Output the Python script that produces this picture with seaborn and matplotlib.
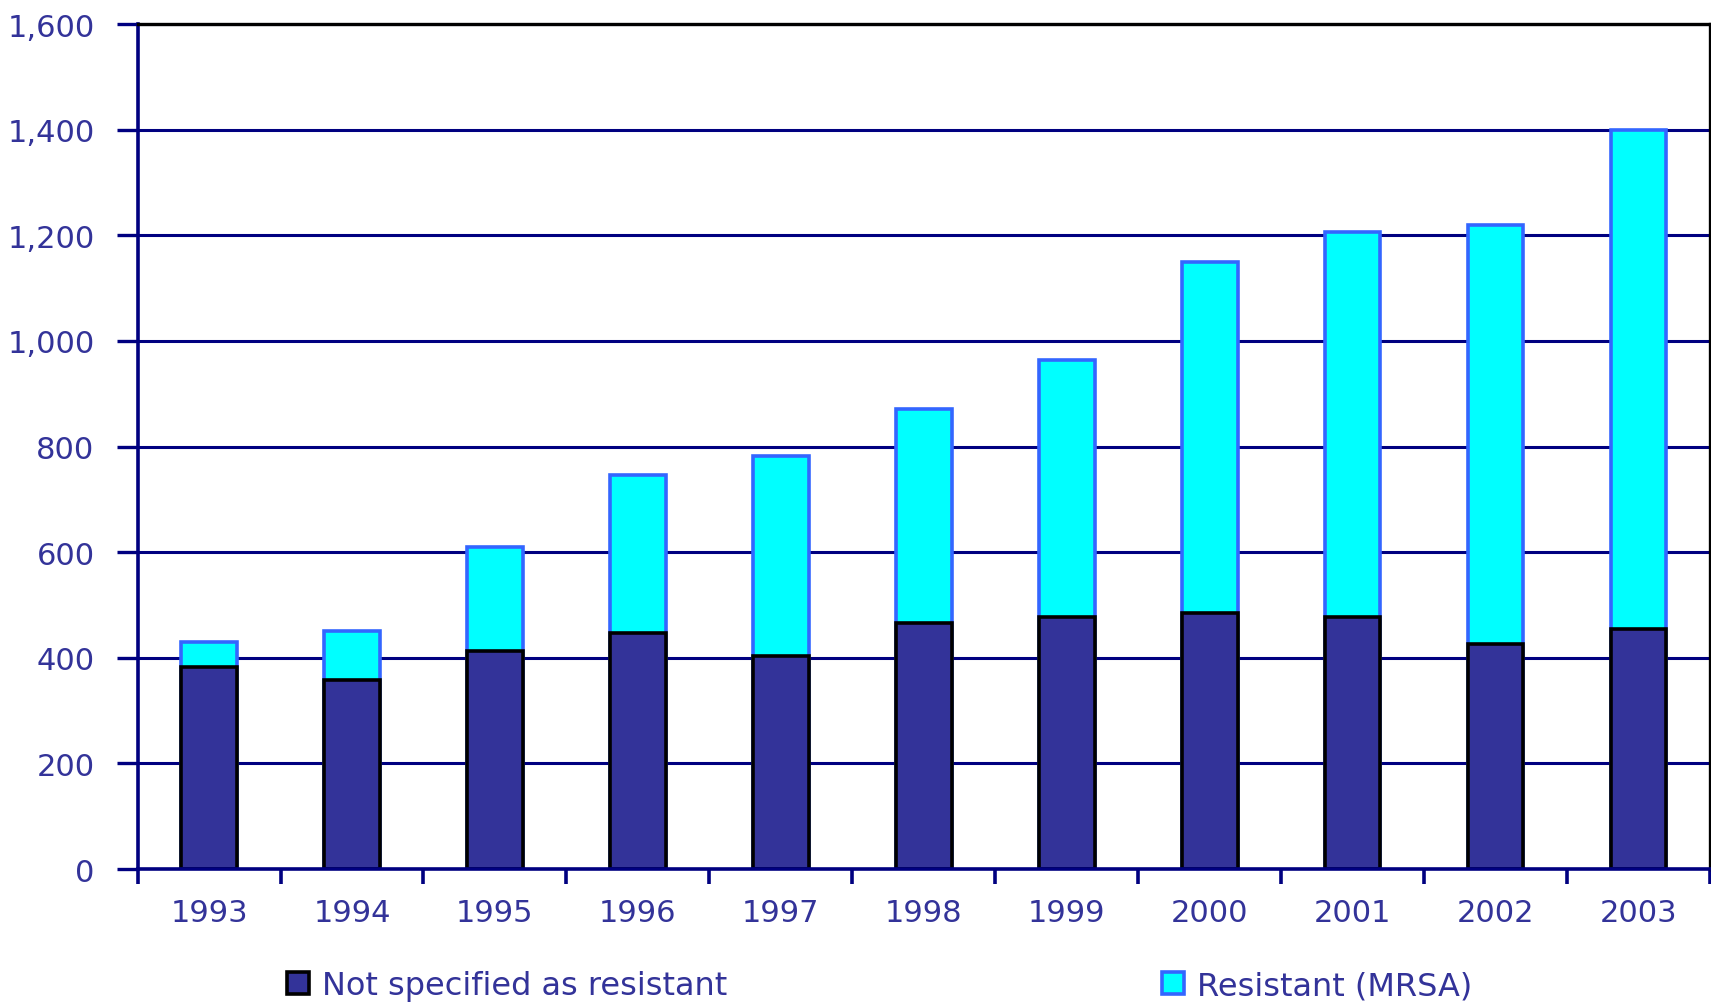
import matplotlib
matplotlib.use('Agg')
import matplotlib.pyplot as plt
import seaborn as sns
import pandas as pd
from matplotlib.ticker import FuncFormatter, FixedLocator

# data
years = ['1993', '1994', '1995', '1996', '1997', '1998', '1999', '2000', '2001', '2002', '2003']
not_resistant = [382, 358, 413, 446, 403, 465, 477, 484, 477, 426, 455]
resistant = [48, 93, 197, 300, 380, 407, 486, 665, 730, 794, 945]

df = pd.DataFrame({'year': years, 'not_res': not_resistant, 'res': resistant})
df['total'] = df['not_res'] + df['res']

sns.set_style('white')
plt.rcParams['font.family'] = ['DejaVu Sans']

navy = '#000080'
text_col = '#333399'

fig = plt.figure(figsize=(17.11, 10.03), dpi=100)
ax = fig.add_axes([0.0804, 0.1326, 0.9190, 0.8424])

# total bar first (cyan), then the dark part on top of it
sns.barplot(data=df, x='year', y='total', color='#00FFFF', edgecolor='#3366FF',
            linewidth=2.6, width=0.39, saturation=1, ax=ax, label='Resistant (MRSA)')
sns.barplot(data=df, x='year', y='not_res', color='#333399', edgecolor='black',
            linewidth=2.6, width=0.39, saturation=1, ax=ax, label='Not specified as resistant')
if ax.get_legend() is not None:
    ax.get_legend().remove()

ax.set_xlim(-0.5, 10.5)
ax.set_ylim(0, 1600)
ax.set_xlabel('')
ax.set_ylabel('')

ax.set_yticks(range(0, 1601, 200))
ax.yaxis.set_major_formatter(FuncFormatter(lambda v, p: f'{int(v):,}'))
ax.yaxis.grid(True, color=navy, linewidth=2.2)
ax.set_axisbelow(True)

# x ticks between the categories
ax.xaxis.set_minor_locator(FixedLocator([i - 0.5 for i in range(12)]))
ax.tick_params(axis='x', which='major', length=0, pad=21, labelsize=22, labelcolor=text_col)
ax.tick_params(axis='x', which='minor', bottom=True, length=11, width=2.6, color=navy,
               direction='out')
ax.tick_params(axis='y', left=True, length=15, width=2.4, color=navy, direction='out', pad=16,
               labelsize=22, labelcolor=text_col)

for side in ['left', 'bottom']:
    ax.spines[side].set_color(navy)
    ax.spines[side].set_linewidth(2.6)
for side in ['top', 'right']:
    ax.spines[side].set_color('black')
    ax.spines[side].set_linewidth(2.4)
ax.spines['top'].set_zorder(5)

handles, labels = ax.get_legend_handles_labels()
order = [labels.index('Not specified as resistant'), labels.index('Resistant (MRSA)')]
leg = fig.legend([handles[i] for i in order], [labels[i] for i in order],
                 loc='center left', bbox_to_anchor=(0.1677, 0.016), ncol=2, frameon=False,
                 fontsize=23, labelcolor=text_col, handlelength=0.7, handleheight=0.7,
                 handletextpad=0.4, columnspacing=13.6, borderpad=0, borderaxespad=0)

fig.savefig('out.png', dpi=100)
